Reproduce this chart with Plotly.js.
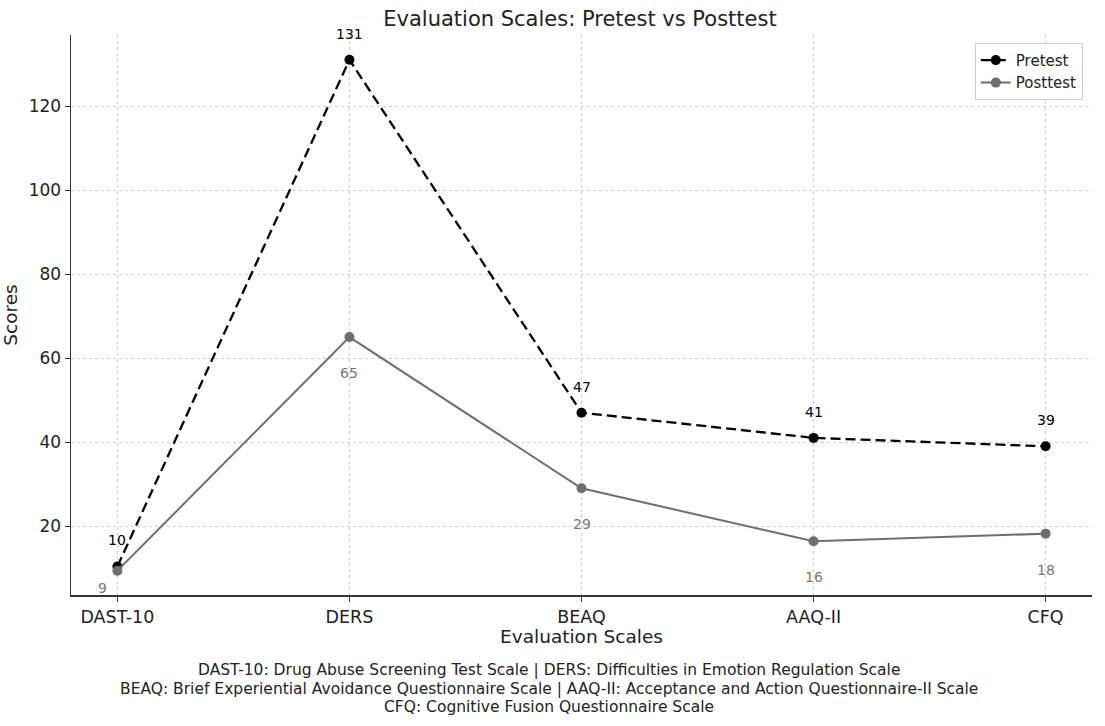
<!DOCTYPE html>
<html>
<head>
<meta charset="utf-8">
<script src="https://cdn.plot.ly/plotly-3.0.1.min.js"></script>
<style>html,body{margin:0;padding:0;background:#fff;}#chart{width:1105px;height:726px;}</style>
</head>
<body>
<div id="chart"></div>
<script>
const categories = ["DAST-10", "DERS", "BEAQ", "AAQ-II", "CFQ"];
const pretest = [10.4, 131, 47, 41, 39];
const posttest = [9.4, 65, 29, 16.4, 18.2];
const yTicks = [20, 40, 60, 80, 100, 120];
const footnoteLines = [
  "DAST-10: Drug Abuse Screening Test Scale | DERS: Difficulties in Emotion Regulation Scale",
  "BEAQ: Brief Experiential Avoidance Questionnaire Scale | AAQ-II: Acceptance and Action Questionnaire-II Scale",
  "CFQ: Cognitive Fusion Questionnaire Scale"
];
const FONT = "DejaVu Sans, sans-serif";
const PRE_COLOR = "#000000";
const POST_COLOR = "#6e6e6e";

const traces = [
  {
    x: categories, y: pretest, name: "Pretest", type: "scatter", mode: "lines+markers",
    line: {color: PRE_COLOR, width: 2.3, dash: "10px,5px"},
    marker: {color: PRE_COLOR, size: 10}
  },
  {
    x: categories, y: posttest, name: "Posttest", type: "scatter", mode: "lines+markers",
    line: {color: POST_COLOR, width: 2},
    marker: {color: POST_COLOR, size: 10}
  }
];

const annotations = [];
categories.forEach((c, i) => {
  annotations.push({x: c, y: pretest[i], xref: "x", yref: "y", text: Math.round(pretest[i]).toString(),
    showarrow: false, yshift: 26, xanchor: "center", yanchor: "middle",
    font: {family: FONT, size: 14, color: PRE_COLOR}});
  // the first posttest label would sit on the x tick label, so it is tucked beside its marker
  const first = i === 0;
  annotations.push({x: c, y: posttest[i], xref: "x", yref: "y", text: Math.round(posttest[i]).toString(),
    showarrow: false, yshift: first ? -17 : -36, xshift: first ? -15 : 0, xanchor: "center", yanchor: "middle",
    font: {family: FONT, size: 14, color: "#777777"}});
});
const footY = [-0.134, -0.168, -0.2];
footnoteLines.forEach((t, i) => {
  annotations.push({xref: "paper", yref: "paper", x: 0.468, y: footY[i], xanchor: "center", yanchor: "middle",
    text: t, showarrow: false, font: {family: FONT, size: 15.5, color: "#222222"}});
});

const layout = {
  width: 1105, height: 726,
  margin: {l: 71, r: 13, t: 35, b: 131},
  paper_bgcolor: "#ffffff", plot_bgcolor: "#ffffff",
  font: {family: FONT, size: 17, color: "#222222"},
  title: {text: "Evaluation Scales: Pretest vs Posttest", x: 0.4985, xref: "paper", xanchor: "center",
          y: 0.975, yanchor: "middle",
          font: {family: FONT, size: 21, color: "#222222"}},
  xaxis: {
    type: "category", range: [-0.2, 4.2],
    showline: true, linecolor: "#333333", linewidth: 1.5, mirror: false,
    ticks: "outside", ticklen: 5, tickcolor: "#333333",
    showgrid: true, gridcolor: "#cfcfcf", griddash: "dot", gridwidth: 1,
    tickfont: {family: FONT, size: 17.5, color: "#222222"},
    title: {text: "Evaluation Scales", font: {family: FONT, size: 18.5, color: "#222222"}, standoff: 4},
    zeroline: false
  },
  yaxis: {
    range: [3.6, 136.9], tickvals: yTicks,
    showline: true, linecolor: "#333333", linewidth: 1.5, mirror: false,
    ticks: "outside", ticklen: 5, tickcolor: "#333333",
    showgrid: true, gridcolor: "#cfcfcf", griddash: "dot", gridwidth: 1,
    tickfont: {family: FONT, size: 17, color: "#222222"},
    title: {text: "Scores", font: {family: FONT, size: 18.5, color: "#222222"}, standoff: 8},
    zeroline: false
  },
  legend: {
    x: 0.991, xanchor: "right", y: 0.986, yanchor: "top",
    bordercolor: "#cccccc", borderwidth: 1, bgcolor: "rgba(255,255,255,0.9)",
    font: {family: FONT, size: 15, color: "#222222"}
  },
  annotations: annotations,
  showlegend: true
};

Plotly.newPlot("chart", traces, layout, {displayModeBar: false, staticPlot: true});
</script>
</body>
</html>
